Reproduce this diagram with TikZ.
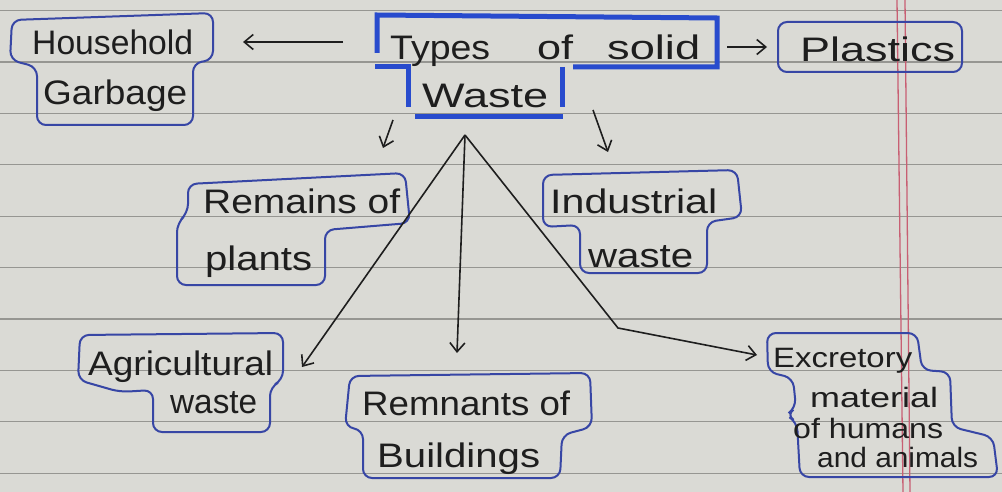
\documentclass[tikz,border=0pt]{standalone}
\usepackage{fontspec}
\setmainfont{Liberation Sans}
\usepackage{graphicx}
\usetikzlibrary{arrows.meta}
\definecolor{paper}{RGB}{218,218,213}
\definecolor{rulegray}{RGB}{150,150,146}
\definecolor{marginred}{RGB}{200,95,115}
\definecolor{boxblue}{RGB}{55,70,165}
\definecolor{titleblue}{RGB}{40,75,205}
\definecolor{ink}{RGB}{30,30,30}
\newcommand{\hw}[2]{\resizebox{#1pt}{\height}{#2}}
\begin{document}
\begin{tikzpicture}[x=1pt,y=-1pt,
 txt/.style={anchor=base west, inner sep=0pt, text=ink, font=\fontsize{34}{38}\selectfont},
 smalltxt/.style={txt, font=\fontsize{28}{31}\selectfont},
 blob/.style={draw=boxblue, line width=2pt, rounded corners=9pt},
 titleframe/.style={draw=titleblue, line width=5pt},
 conn/.style={draw=ink, line width=1.6pt, -{Straight Barb[length=9pt,width=15pt,line width=1.6pt]}}
]
\fill[paper] (0,0) rectangle (1002,492);
\useasboundingbox (0,0) rectangle (1002,492);
% ruled paper
\foreach \k in {0,...,9}
  \draw[rulegray, line width=1.2pt] (0,{10.6+51.4*\k}) -- (1002,{10.6+51.4*\k});
\draw[marginred, line width=1.3pt] (897,0) -- (903,492);
\draw[marginred, line width=1.3pt] (905,0) -- (910,492);

% title frame
\draw[titleframe] (377,53) -- (377,15) -- (717,18) -- (717,67) -- (573,67);
\draw[titleframe] (375,67) -- (408,67) -- (408,107);
\draw[titleframe] (562,67) -- (562,107);
\draw[titleframe] (415,117) -- (563,117);

% blobs
\draw[blob] (12,20) -- (213,13) -- (213,60) -- (193,63) -- (193,125) -- (37,125) -- (37,67) -- (10,60) -- cycle;
\draw[blob] (778,22) rectangle (962,72);
\draw[blob] (188,184) -- (405,173) -- (410,223) -- (325,230) -- (325,285) -- (177,285) -- (177,223) -- (188,213) -- cycle;
\draw[blob] (543,175) -- (737,170) -- (742,217) -- (707,222) -- (707,273) -- (580,273) -- (580,225) -- (543,227) -- cycle;
\draw[blob] (80,335) -- (283,333) -- (283,380) -- (270,387) -- (270,432) -- (153,432) -- (153,390) -- (120,392) -- (78,380) -- cycle;
\draw[blob] (350,376) -- (590,373) -- (592,427) -- (562,435) -- (560,478) -- (363,478) -- (363,430) -- (345,427) -- cycle;
\draw[blob] (767,333) -- (917,333) -- (922,370) -- (950,372) -- (952,427) -- (993,437) -- (998,477) -- (800,477) -- (797,422) -- (786,415) -- (796,408) -- (793,378) -- (768,372) -- cycle;

% texts
\node[txt] (hh) at (32,55) {\hw{161}{Household}};
\node[txt] (gb) at (43,105) {\hw{144}{Garbage}};
\node[txt] (ty) at (390,60) {\hw{100}{Types}\hspace{47pt}\hw{36}{of}\hspace{34pt}\hw{93}{solid}};
\node[txt] (ws) at (422,108) {\hw{126}{Waste}};
\node[txt] (pl) at (800,62) {\hw{155}{Plastics}};
\node[txt] (rm) at (203,213) {\hw{197}{Remains of}};
\node[txt] (pt) at (205,270) {\hw{107}{plants}};
\node[txt] (in) at (550,213) {\hw{167}{Industrial}};
\node[txt] (iw) at (588,267) {\hw{105}{waste}};
\node[txt] (ag) at (88,375) {\hw{185}{Agricultural}};
\node[txt] (aw) at (170,413) {\hw{87}{waste}};
\node[txt] (rb) at (362,415) {\hw{208}{Remnants of}};
\node[txt] (bu) at (377,467) {\hw{163}{Buildings}};
\node[smalltxt] (ex) at (773,367) {\hw{139}{Excretory}};
\node[smalltxt] (ma) at (810,407) {\hw{128}{material}};
\node[smalltxt] (hu) at (793,438) {\hw{150}{of humans}};
\node[smalltxt] (an) at (817,467) {\hw{161}{and animals}};

% connector ends
\coordinate (hhS) at (343,42);
\coordinate (hhE) at (243,42);
\coordinate (plS) at (727,47);
\coordinate (plE) at (767,47);
\coordinate (rmS) at (393,120);
\coordinate (rmE) at (383,148);
\coordinate (inS) at (593,110);
\coordinate (inE) at (608,152);
\coordinate (apex) at (465,135);
\coordinate (agE) at (302,367);
\coordinate (buE) at (457,353);
\coordinate (bend) at (618,328);
\coordinate (exE) at (757,355);

\draw[conn] (hhS) -- (hhE);
\draw[conn] (plS) -- (plE);
\draw[conn] (rmS) -- (rmE);
\draw[conn] (inS) -- (inE);
\draw[conn] (apex) -- (agE);
\draw[conn] (apex) -- (buE);
\draw[conn] (apex) -- (bend) -- (exE);
\end{tikzpicture}
\end{document}
